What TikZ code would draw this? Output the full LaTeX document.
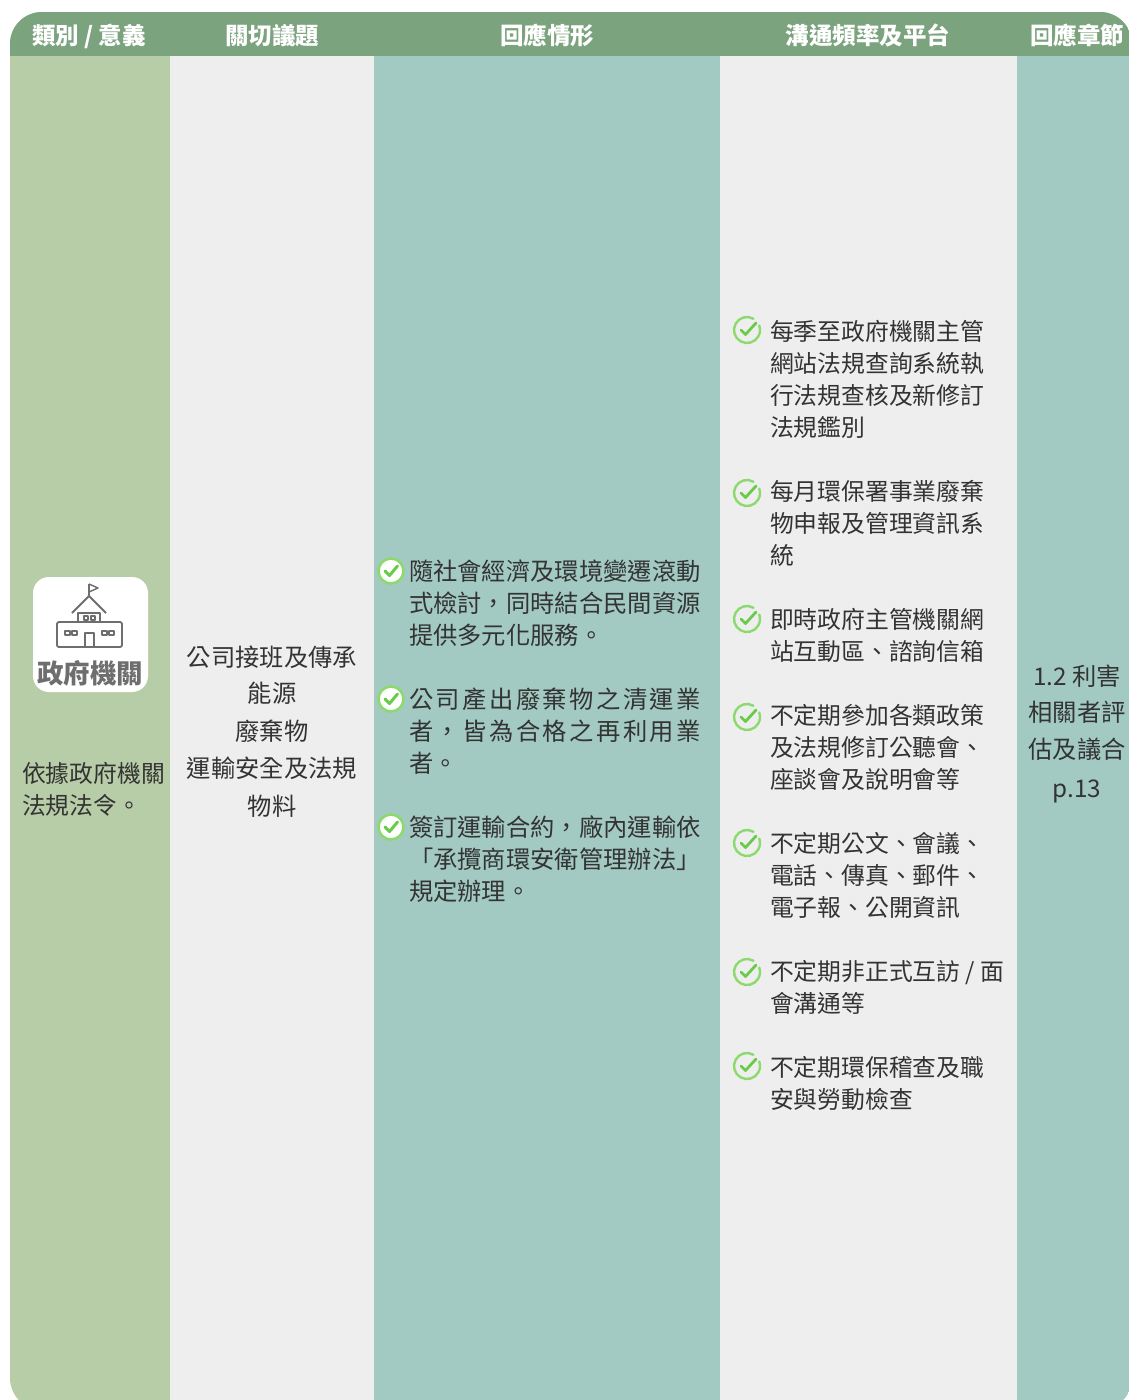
\documentclass[tikz,border=0pt]{standalone}
\usepackage{fontspec}
\setmainfont{Noto Sans CJK TC}
\definecolor{hdr}{RGB}{123,163,126}
\definecolor{colA}{RGB}{183,205,167}
\definecolor{colG}{RGB}{238,238,238}
\definecolor{colT}{RGB}{162,202,194}
\definecolor{txt}{RGB}{51,51,51}
\definecolor{ring}{RGB}{140,218,110}
\definecolor{chk}{RGB}{104,204,72}
\definecolor{icon}{RGB}{110,110,110}
\newcommand\mybody{\fontsize{24.3}{32}\selectfont}
\newcommand\mysmall{\fontsize{23.8}{32}\selectfont}
\newcommand\myhead{\fontsize{23.5}{28}\selectfont\bfseries}
\newcommand\jline[1]{\hbox to 292pt{#1}}
\begin{document}
\begin{tikzpicture}[x=1pt,y=-1pt,
  every node/.style={inner sep=0pt,outer sep=0pt,text=txt,font=\mybody},
  lt/.style={anchor=base west},
  lts/.style={anchor=base west,font=\mysmall},
  ct/.style={anchor=base},
  hd/.style={anchor=base,text=white,font=\myhead},
  chkA/.pic={
    \fill[white] (0,0) circle (12.5);
    \draw[ring,line width=2.6pt] (0,0) circle (12.5);
    \draw[chk,line width=3pt,line cap=round,line join=round] (-6,0) -- (-1.5,4.5) -- (6.5,-5);
  },
  chkB/.pic={
    \draw[ring,line width=2.4pt,line cap=round] (0,0) ++(-60:13) arc[start angle=-60,end angle=-380,radius=13];
    \draw[chk,line width=2.8pt,line cap=round,line join=round] (-6,0) -- (-1.5,4.5) -- (9,-7);
  }]
\useasboundingbox (0,0) rectangle (1128,1400);
\fill[white] (0,0) rectangle (1128,1400);
\begin{scope}
\clip[rounded corners=32pt] (10,12) rectangle (1132,1410);
\fill[colA] (10,12) rectangle (170,1410);
\fill[colG] (170,12) rectangle (374,1410);
\fill[colT] (374,12) rectangle (720,1410);
\fill[colG] (720,12) rectangle (1017,1410);
\fill[colT] (1017,12) rectangle (1132,1410);
\fill[hdr] (10,12) rectangle (1132,56);
\end{scope}
% header
\node[hd] (h1) at (89,44) {類別 / 意義};
\node[hd] (h2) at (272,44) {關切議題};
\node[hd] (h3) at (547,44) {回應情形};
\node[hd] (h4) at (868,44) {溝通頻率及平台};
\node[hd] (h5) at (1077,44) {回應章節};
% icon
\fill[white,rounded corners=16pt] (33,577) rectangle (148,692);
\begin{scope}[icon,line width=1.8pt,line join=round]
\draw (89,597) -- (89,584);
\draw[line width=1.4pt] (89,584) -- (98,588) -- (89,592);
\draw (72,613) -- (89,596) -- (106,613);
\draw (78,613) rectangle (100,622);
\draw[line width=1.2pt] (84,616) rectangle (88,620) (91,616) rectangle (95,620);
\draw[rounded corners=2pt] (57,622) rectangle (122,647);
\draw[line width=1.2pt] (65,631) rectangle (70,635) (72,631) rectangle (77,635);
\draw[line width=1.2pt] (102,631) rectangle (107,635) (109,631) rectangle (114,635);
\draw (85,647) -- (85,633) -- (94,633) -- (94,647);
\end{scope}
\node[anchor=base,text=icon,font=\fontsize{26.5}{30}\selectfont\bfseries] (icn) at (90,683) {政府機關};
% column 1
\node[lts] (a1) at (22,782) {依據政府機關};
\node[lts] (a2) at (22,814) {法規法令。};
% column 2
\node[ct] (b1) at (272,666) {公司接班及傳承};
\node[ct] (b2) at (272,702) {能源};
\node[ct] (b3) at (272,740) {廢棄物};
\node[ct] (b4) at (272,777) {運輸安全及法規};
\node[ct] (b5) at (272,815) {物料};
% column 3
\pic at (391,571) {chkA};
\node[lt] (c11) at (409,580) {隨社會經濟及環境變遷滾動};
\node[lt] (c12) at (409,612) {式檢討，同時結合民間資源};
\node[lt] (c13) at (409,644) {提供多元化服務。};
\pic at (391,699) {chkA};
\node[lt] (c21) at (409,708) {\jline{公\hfill 司\hfill 產\hfill 出\hfill 廢\hfill 棄\hfill 物\hfill 之\hfill 清\hfill 運\hfill 業}};
\node[lt] (c22) at (409,740) {\jline{者\hfill ，\hfill 皆\hfill 為\hfill 合\hfill 格\hfill 之\hfill 再\hfill 利\hfill 用\hfill 業}};
\node[lt] (c23) at (409,772) {者。};
\pic at (391,827) {chkA};
\node[lt] (c31) at (409,836) {簽訂運輸合約，廠內運輸依};
\node[lt] (c32) at (409,868) {「承攬商環安衛管理辦法」};
\node[lt] (c33) at (409,900) {規定辦理。};
% column 4
\pic at (747,330) {chkB};
\node[lts] (d11) at (770,340) {每季至政府機關主管};
\node[lts] (d12) at (770,372) {網站法規查詢系統執};
\node[lts] (d13) at (770,404) {行法規查核及新修訂};
\node[lts] (d14) at (770,436) {法規鑑別};
\pic at (747,493) {chkB};
\node[lts] (d21) at (770,500) {每月環保署事業廢棄};
\node[lts] (d22) at (770,532) {物申報及管理資訊系};
\node[lts] (d23) at (770,564) {統};
\pic at (747,619) {chkB};
\node[lts] (d31) at (770,628) {即時政府主管機關網};
\node[lts] (d32) at (770,660) {站互動區、諮詢信箱};
\pic at (747,717) {chkB};
\node[lts] (d41) at (770,724) {不定期參加各類政策};
\node[lts] (d42) at (770,756) {及法規修訂公聽會、};
\node[lts] (d43) at (770,788) {座談會及說明會等};
\pic at (747,843) {chkB};
\node[lts] (d51) at (770,852) {不定期公文、會議、};
\node[lts] (d52) at (770,884) {電話、傳真、郵件、};
\node[lts] (d53) at (770,916) {電子報、公開資訊};
\pic at (747,972) {chkB};
\node[lts] (d61) at (770,980) {不定期非正式互訪 / 面};
\node[lts] (d62) at (770,1012) {會溝通等};
\pic at (747,1066) {chkB};
\node[lts] (d71) at (770,1076) {不定期環保稽查及職};
\node[lts] (d72) at (770,1108) {安與勞動檢查};
% column 5
\node[ct] (e1) at (1077,685) {1.2 利害};
\node[ct] (e2) at (1077,721) {相關者評};
\node[ct] (e3) at (1077,758) {估及議合};
\node[ct] (e4) at (1077,797) {p.13};
\end{tikzpicture}
\end{document}
